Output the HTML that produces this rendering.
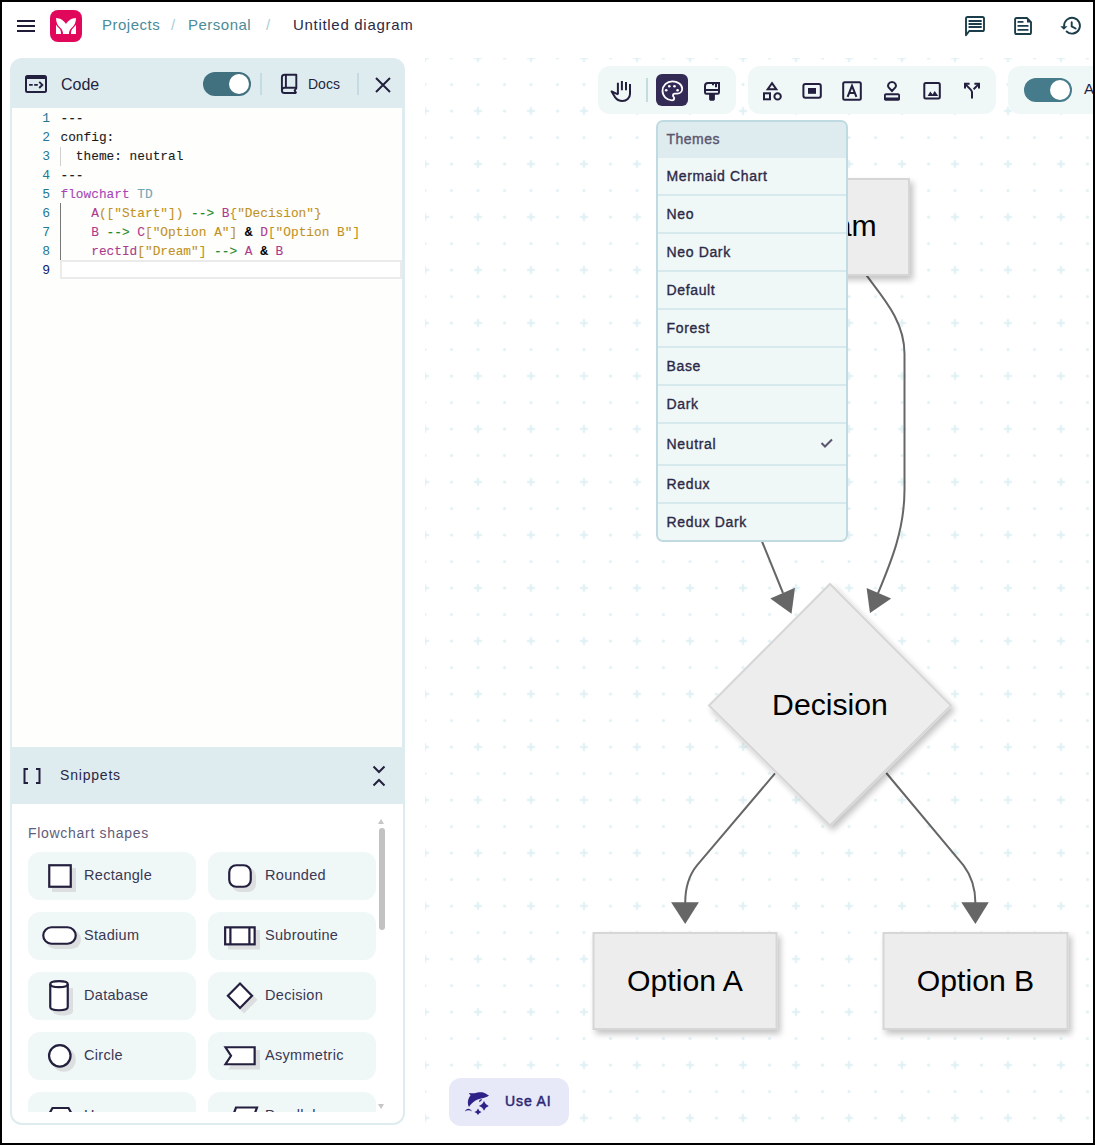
<!DOCTYPE html>
<html><head><meta charset="utf-8">
<style>
html,body{margin:0;padding:0;}
body{width:1095px;height:1145px;position:relative;overflow:hidden;background:#fff;font-family:"Liberation Sans",sans-serif;color:#2a2742;}
.a{position:absolute;}
.t{position:absolute;white-space:nowrap;line-height:1;}
#frame{position:absolute;left:0;top:0;width:1091px;height:1141px;border:2px solid #000;z-index:100;pointer-events:none;}
</style></head>
<body>
<!-- canvas grid -->
<svg class="a" style="left:0;top:0" width="1095" height="1145">
  <defs>
    <pattern id="grid" patternUnits="userSpaceOnUse" x="411.75" y="44.75" width="53" height="53">
      <rect x="9.25" y="12.25" width="8" height="2" fill="#def0f3"/>
      <rect x="12.25" y="9.25" width="2" height="8" fill="#def0f3"/>
      <circle cx="39.75" cy="13.25" r="1.5" fill="#def0f3"/>
      <circle cx="13.25" cy="39.75" r="1.5" fill="#def0f3"/>
      <circle cx="39.75" cy="39.75" r="1.5" fill="#def0f3"/>
    </pattern>
  </defs>
  <rect x="425" y="58" width="670" height="1090" fill="url(#grid)"/>
</svg>


<!-- header -->
<div class="a" style="left:17px;top:20px;width:18px;height:2px;background:#1f1c3a"></div>
<div class="a" style="left:17px;top:25px;width:18px;height:2px;background:#1f1c3a"></div>
<div class="a" style="left:17px;top:30px;width:18px;height:2px;background:#1f1c3a"></div>
<div class="a" style="left:50px;top:10px;width:32px;height:32px;border-radius:8px;background:#e1085c"></div>
<svg class="a" style="left:50px;top:10px" width="32" height="32" viewBox="0 0 32 32">
  <path d="M6 7.9 C10.5 8 14 10.5 16 14 C18 10.5 21.5 8 26 7.9 C26 12 24.5 15.5 21.5 18 C19.7 19.6 19 21.5 19 24 L13 24 C13 21.5 12.3 19.6 10.5 18 C7.5 15.5 6 12 6 7.9 Z" fill="#fff"/>
  <path d="M6 14.8 C7 16.3 8.2 17.5 9.3 18.6 C10.6 19.9 11 21.5 11 24 L6 24 Z" fill="#fff"/>
  <path d="M26 14.8 C25 16.3 23.8 17.5 22.7 18.6 C21.4 19.9 21 21.5 21 24 L26 24 Z" fill="#fff"/>
</svg>
<div class="t" style="left:102px;top:17px;font-size:15px;letter-spacing:0.5px;color:#4b8b99">Projects</div>
<div class="t" style="left:171px;top:17px;font-size:15px;color:#a9cdd4">/</div>
<div class="t" style="left:188px;top:17px;font-size:15px;letter-spacing:0.5px;color:#4b8b99">Personal</div>
<div class="t" style="left:266px;top:17px;font-size:15px;color:#a9cdd4">/</div>
<div class="t" style="left:293px;top:17px;font-size:15px;letter-spacing:0.7px;color:#2b2944">Untitled diagram</div>



<!-- header right icons -->
<svg class="a" style="left:0;top:0" width="1095" height="50" viewBox="0 0 1095 50">
 <g fill="none" stroke="#1b3d4a" stroke-width="1.9" stroke-linejoin="round">
  <path d="M966 35.3 V18.6 C966 17.7 966.7 17 967.6 17 H982.4 C983.3 17 984 17.7 984 18.6 V29.4 C984 30.3 983.3 31 982.4 31 H969.2 Z"/>
  <path d="M969.3 21 H981 M969.3 24 H981 M969.3 27 H981" stroke-linecap="round"/>
  <path d="M1026.9 18 H1016.7 C1015.8 18 1015.1 18.7 1015.1 19.6 V32.4 C1015.1 33.3 1015.8 34 1016.7 34 H1029.4 C1030.3 34 1031 33.3 1031 32.4 V22.1 Z"/>
  <path d="M1018.3 21.9 H1022.7 M1018.3 25.9 H1027.7 M1018.3 29.9 H1027.7" stroke-linecap="round"/>
  <path d="M1064.1 26 A7.9 7.9 0 1 1 1066.6 31.5" stroke-linecap="round"/>
  <path d="M1071.7 22.3 V26.4 L1075.6 28.5" stroke-linecap="round"/>
 </g>
 <path d="M1027 18 V22.6 H1031.5 Z" fill="#1b3d4a"/>
 <path d="M1060.3 26.3 H1067.5 L1063.9 29.8 Z" fill="#1b3d4a"/>
</svg>

<!-- left panel -->
<div class="a" style="left:10px;top:58px;width:395px;height:1067px;border-radius:12px;background:#deecf0"></div>
<svg class="a" style="left:24px;top:74px" width="24" height="20" viewBox="0 0 24 20">
  <rect x="2" y="2" width="20" height="16" rx="1.5" fill="none" stroke="#231f3e" stroke-width="2"/>
  <rect x="2" y="2" width="20" height="3" fill="#231f3e"/>
  <path d="M5.1 10.9 H8.7 M10.2 10.9 H13.8" stroke="#231f3e" stroke-width="1.9"/>
  <path d="M15.2 7.8 L18.3 10.9 L15.2 14" fill="none" stroke="#231f3e" stroke-width="1.9"/>
</svg>
<div class="t" style="left:61px;top:76.5px;font-size:16px;color:#231f3e">Code</div>
<div class="a" style="left:203px;top:72px;width:48px;height:24px;border-radius:12px;background:#41707f"></div>
<div class="a" style="left:229px;top:74px;width:20px;height:20px;border-radius:10px;background:#fff"></div>
<div class="a" style="left:259.5px;top:73px;width:2px;height:22px;background:#c3dce2"></div>
<svg class="a" style="left:274px;top:70px" width="30" height="30" viewBox="274 70 30 30">
  <path d="M296.3 93 H284.6 C283.1 93 281.9 91.8 281.9 90.4 V77.5 C281.9 76 283.1 74.8 284.6 74.8 H296.3 V88.3 L294.6 90.6 L296.3 93" fill="none" stroke="#231f3e" stroke-width="1.9" stroke-linejoin="round"/>
  <path d="M281.9 90.4 C281.9 89 283 87.8 284.4 87.8 H296.3 M285.9 74.8 V87.8" fill="none" stroke="#231f3e" stroke-width="1.9"/>
</svg>
<div class="t" style="left:308px;top:77px;font-size:14px;color:#231f3e">Docs</div>
<div class="a" style="left:357px;top:73px;width:2px;height:22px;background:#c3dce2"></div>
<svg class="a" style="left:374px;top:76px" width="18" height="18" viewBox="0 0 18 18">
  <path d="M2 2 L16 16 M16 2 L2 16" stroke="#231f3e" stroke-width="2"/>
</svg>
<!-- editor -->
<div class="a" style="left:12px;top:108px;width:390px;height:639px;background:#fefefc"></div>


<style>
.ln{position:absolute;left:20px;width:30px;text-align:right;font-family:"Liberation Mono",monospace;font-size:13px;line-height:19px;color:#237893;}
.cl{position:absolute;left:60.5px;font-family:"Liberation Mono",monospace;font-size:12.8px;line-height:19px;color:#1b1b1b;white-space:pre;-webkit-text-stroke:0.1px currentColor;}
.kw{color:#a548b6}.td{color:#72a7b6}.nd{color:#ad3a8c}.st{color:#c1921f}.ar{color:#1f8a2a}.am{color:#000;font-weight:bold}
</style>
<div class="ln" style="top:109px">1</div><div class="cl" style="top:109px">---</div>
<div class="ln" style="top:128px">2</div><div class="cl" style="top:128px">config:</div>
<div class="ln" style="top:147px">3</div><div class="cl" style="top:147px">  theme: neutral</div>
<div class="ln" style="top:166px">4</div><div class="cl" style="top:166px">---</div>
<div class="ln" style="top:185px">5</div><div class="cl" style="top:185px"><span class="kw">flowchart</span> <span class="td">TD</span></div>
<div class="ln" style="top:204px">6</div><div class="cl" style="top:204px">    <span class="nd">A</span><span class="st">(["Start"])</span> <span class="ar">--&gt;</span> <span class="nd">B</span><span class="st">{"Decision"}</span></div>
<div class="ln" style="top:223px">7</div><div class="cl" style="top:223px">    <span class="nd">B</span> <span class="ar">--&gt;</span> <span class="nd">C</span><span class="st">["Option A"]</span> <span class="am">&amp;</span> <span class="nd">D</span><span class="st">["Option B"]</span></div>
<div class="ln" style="top:242px">8</div><div class="cl" style="top:242px">    <span class="nd">rectId</span><span class="st">["Dream"]</span> <span class="ar">--&gt;</span> <span class="nd">A</span> <span class="am">&amp;</span> <span class="nd">B</span></div>
<div class="ln" style="top:261px;color:#0b216f">9</div>
<div class="a" style="left:60px;top:147px;width:1px;height:19px;background:#d0d0d0"></div>
<div class="a" style="left:60px;top:203px;width:1px;height:57px;background:#777"></div>
<div class="a" style="left:60px;top:260px;width:338px;height:15px;border:2px solid #ebebeb;background:#fff"></div>


<!-- snippets -->
<div class="a" style="left:12px;top:804px;width:391px;height:319px;background:#fff;border-radius:0 0 10px 10px"></div>
<svg class="a" style="left:22px;top:767px" width="20" height="18" viewBox="0 0 20 18">
  <path d="M6 2 H2.5 V16 H6 M14 2 H17.5 V16 H14" fill="none" stroke="#231f3e" stroke-width="2"/>
</svg>
<div class="t" style="left:60px;top:768px;font-size:14px;letter-spacing:0.8px;color:#2a2744">Snippets</div>
<svg class="a" style="left:371px;top:764px" width="16" height="24" viewBox="0 0 16 24">
  <path d="M2.5 2.5 L8 8 L13.5 2.5 M2.5 21.5 L8 16 L13.5 21.5" fill="none" stroke="#231f3e" stroke-width="2"/>
</svg>
<div class="t" style="left:28px;top:826px;font-size:14px;letter-spacing:0.7px;color:#5f5d78">Flowchart shapes</div>
<!-- scrollbar -->
<div class="a" style="left:378px;top:819px;width:0;height:0;border-left:3.5px solid transparent;border-right:3.5px solid transparent;border-bottom:5px solid #c6c6c6"></div>
<div class="a" style="left:379px;top:828px;width:6px;height:102px;border-radius:3px;background:#c2c2c2"></div>
<div class="a" style="left:378px;top:1104px;width:0;height:0;border-left:3.5px solid transparent;border-right:3.5px solid transparent;border-top:5px solid #c6c6c6"></div>
<div class="a" style="left:12px;top:846px;width:366px;height:266px;overflow:hidden">
<div class="a" style="left:16px;top:6px;width:168px;height:48px;border-radius:12px;background:#eff7f7"></div>
<div class="a" style="left:196px;top:6px;width:168px;height:48px;border-radius:12px;background:#eff7f7"></div>
<div class="a" style="left:16px;top:66px;width:168px;height:48px;border-radius:12px;background:#eff7f7"></div>
<div class="a" style="left:196px;top:66px;width:168px;height:48px;border-radius:12px;background:#eff7f7"></div>
<div class="a" style="left:16px;top:126px;width:168px;height:48px;border-radius:12px;background:#eff7f7"></div>
<div class="a" style="left:196px;top:126px;width:168px;height:48px;border-radius:12px;background:#eff7f7"></div>
<div class="a" style="left:16px;top:186px;width:168px;height:48px;border-radius:12px;background:#eff7f7"></div>
<div class="a" style="left:196px;top:186px;width:168px;height:48px;border-radius:12px;background:#eff7f7"></div>
<div class="a" style="left:16px;top:246px;width:168px;height:48px;border-radius:12px;background:#eff7f7"></div>
<div class="a" style="left:196px;top:246px;width:168px;height:48px;border-radius:12px;background:#eff7f7"></div>
<svg class="a" style="left:0;top:0" width="366" height="266" viewBox="12 846 366 266">
<g fill="#dcdedf">
 <rect x="52" y="868" width="24" height="24"/>
 <rect x="232" y="868" width="24" height="24" rx="8"/>
 <rect x="46" y="930" width="35" height="19" rx="9.5"/>
 <rect x="228" y="930" width="32" height="19.5"/>
 <path d="M53 988 V1011.5 C53 1013.5 57 1015.5 63 1015.5 C69 1015.5 73 1013.5 73 1011.5 V988 Z"/>
 <path d="M244 986 L257.5 999.7 L244 1013.4 L230.4 999.7 Z"/>
 <circle cx="63.8" cy="1059.8" r="12"/>
 <path d="M228.2 1050 H260 V1069.5 H228.2 L234.4 1059.8 Z"/>
</g>
<g fill="#fff" stroke="#231f3e" stroke-width="2.2" stroke-linejoin="miter">
 <rect x="49.25" y="865.25" width="21.5" height="21.5"/>
 <rect x="229.25" y="865.25" width="21.5" height="21.5" rx="7"/>
 <rect x="43.25" y="927.25" width="32.5" height="16.5" rx="8.25"/>
 <rect x="225.15" y="927.35" width="29.5" height="17"/>
 <path d="M230.4 927.35 V944.35 M249.4 927.35 V944.35" fill="none"/>
 <path d="M50.25 984 V1007 C50.25 1009 54 1010.25 59 1010.25 C64 1010.25 67.75 1009 67.75 1007 V984 C67.75 982 64 981.15 59 981.15 C54 981.15 50.25 982 50.25 984 Z"/>
 <path d="M50.25 984 C50.25 986 54 987.2 59 987.2 C64 987.2 67.75 986 67.75 984" fill="none"/>
 <path d="M240 983.5 L252 995.7 L240 1007.9 L227.9 995.7 Z"/>
 <circle cx="59.8" cy="1055.8" r="10.75"/>
 <path d="M225.5 1047.25 H254.65 V1064.25 H225.5 L231 1055.75 Z"/>
 <path d="M52.5 1108 H68.5 L73 1116 L68.5 1124 H52.5 L48 1116 Z"/>
 <path d="M236 1107.5 H257 L251 1124 H230 Z"/>
</g>
</svg>
<div class="t" style="left:72px;top:22px;font-size:14.5px;letter-spacing:0.3px;color:#3a3853">Rectangle</div>
<div class="t" style="left:253px;top:22px;font-size:14.5px;letter-spacing:0.3px;color:#3a3853">Rounded</div>
<div class="t" style="left:72px;top:82px;font-size:14.5px;letter-spacing:0.3px;color:#3a3853">Stadium</div>
<div class="t" style="left:253px;top:82px;font-size:14.5px;letter-spacing:0.3px;color:#3a3853">Subroutine</div>
<div class="t" style="left:72px;top:142px;font-size:14.5px;letter-spacing:0.3px;color:#3a3853">Database</div>
<div class="t" style="left:253px;top:142px;font-size:14.5px;letter-spacing:0.3px;color:#3a3853">Decision</div>
<div class="t" style="left:72px;top:202px;font-size:14.5px;letter-spacing:0.3px;color:#3a3853">Circle</div>
<div class="t" style="left:253px;top:202px;font-size:14.5px;letter-spacing:0.3px;color:#3a3853">Asymmetric</div>
<div class="t" style="left:72px;top:262px;font-size:14.5px;letter-spacing:0.3px;color:#3a3853">Hexagon</div>
<div class="t" style="left:253px;top:262px;font-size:14.5px;letter-spacing:0.3px;color:#3a3853">Parallelogram</div>
</div>



<!-- diagram -->
<svg class="a" style="left:0;top:0" width="1095" height="1145" viewBox="0 0 1095 1145">
 <defs>
  <filter id="sh" x="-20%" y="-20%" width="150%" height="150%">
   <feGaussianBlur in="SourceAlpha" stdDeviation="3.2"/>
   <feOffset dx="2.5" dy="4" result="b"/>
   <feComponentTransfer><feFuncA type="linear" slope="0.24"/></feComponentTransfer>
   <feMerge><feMergeNode/><feMergeNode in="SourceGraphic"/></feMerge>
  </filter>
 </defs>
 <g fill="none" stroke="#666" stroke-width="2">
  <path d="M761 539 L783 593"/>
  <path d="M866.7 275.7 C885 300 904.5 322 904.5 354 V489.6 C904.5 530 891 562 877.7 594"/>
  <path d="M775 773.4 L697 865.4 C690 874 685.2 885 685.2 903"/>
  <path d="M886.3 773 L963.5 865.4 C970 874 975.4 885 975.4 903"/>
 </g>
 <g fill="#666">
  <path d="M770.3 598.4 L795 587.8 L791.5 613.7 Z"/>
  <path d="M866.6 588.1 L891.2 598.5 L870 613 Z"/>
  <path d="M671.1 902.2 L698.9 902.2 L685.2 924 Z"/>
  <path d="M961.3 902.2 L988.8 902.2 L975.4 924 Z"/>
 </g>
 <g fill="#ededed" stroke="#d6d6d6" stroke-width="2" filter="url(#sh)">
  <rect x="757" y="179" width="152" height="96"/>
  <path d="M830 584 L951 705.5 L830 825.5 L709 705.5 Z"/>
  <rect x="593.5" y="933" width="183" height="96"/>
  <rect x="883.5" y="933" width="184" height="96"/>
 </g>
 <g font-family="Liberation Sans" font-size="30.2" fill="#000" text-anchor="middle">
  <text x="831.3" y="236">Dream</text>
  <text x="830" y="714.5">Decision</text>
  <text x="685" y="990.5">Option A</text>
  <text x="975.5" y="991">Option B</text>
 </g>
</svg>
<!-- use AI -->
<div class="a" style="left:449px;top:1078px;width:120px;height:48px;border-radius:12px;background:#e7e8f8"></div>
<svg class="a" style="left:0;top:1080px" width="600" height="50" viewBox="0 1080 600 50">
 <g fill="#2d2287">
  <path d="M469 1093 C473 1093.8 476 1093 479 1092.3 C482 1091.8 484.5 1092.5 486 1093.8 C487 1094.6 488 1095 489 1095.4 C487.5 1096.6 484.5 1097.8 481 1098.5 C476.5 1099.5 472 1102 469 1107 C467.2 1104 467.5 1099 470.6 1095.3 C469.9 1094.7 469.2 1094 469 1093 Z"/>
  <path d="M479 1102.2 C480.7 1101.5 481.8 1100.5 482 1099 L479.8 1099.7 C479.3 1100.4 479 1101.2 479 1102.2 Z"/>
  <path d="M465 1111.4 C466 1108.4 470 1107.3 472 1111.4 C470 1110 467 1110 465 1111.4 Z"/>
  <path d="M484 1100.8 Q485.2 1104.7 488.8 1105.9 Q485.2 1107.1 484 1110.8 Q482.8 1107.1 478.9 1105.9 Q482.8 1104.7 484 1100.8 Z"/>
  <path d="M478 1108.6 Q478.7 1111.2 481.6 1111.9 Q478.7 1112.6 478 1115 Q477.3 1112.6 474.4 1111.9 Q477.3 1111.2 478 1108.6 Z"/>
 </g>
</svg>
<div class="t" style="left:505px;top:1094px;font-size:14px;letter-spacing:0.9px;-webkit-text-stroke:0.5px #2c2773;color:#2c2773">Use AI</div>

<!-- toolbar -->
<div class="a" style="left:598px;top:66px;width:138px;height:48px;border-radius:12px;background:#eff7f7"></div>
<div class="a" style="left:748px;top:66px;width:248px;height:48px;border-radius:12px;background:#eff7f7"></div>
<div class="a" style="left:1008px;top:66px;width:120px;height:48px;border-radius:12px;background:#eff7f7"></div>
<div class="a" style="left:646px;top:78px;width:2px;height:24px;background:#c3dce2"></div>
<div class="a" style="left:656px;top:74px;width:32px;height:32px;border-radius:6px;background:#332a56"></div>
<div class="a" style="left:1024px;top:78px;width:48px;height:24px;border-radius:12px;background:#457b8a"></div>
<div class="a" style="left:1050px;top:80px;width:20px;height:20px;border-radius:10px;background:#fff"></div>
<div class="t" style="left:1084px;top:81px;font-size:15px;color:#231f3e">A</div>
<svg class="a" style="left:0;top:0" width="1095" height="130" viewBox="0 0 1095 130">
 <g fill="none" stroke="#231f3e" stroke-width="2" stroke-linecap="butt" stroke-linejoin="round">
  <path d="M617.9 82.8 V94.5 M621.9 81 V90.3 M626 82 V90.3"/>
  <path d="M630 84 V94 C630 98 626.5 101 622.5 101 C619 101 616.7 99.5 614.8 96.8 L611.6 91.4 L617.9 94.3"/>
 </g>
 <g fill="none" stroke="#fff" stroke-width="1.8">
  <path d="M672.3 81.3 C666.8 81.3 662.5 85.6 662.5 90.8 C662.5 96.2 666.9 100.3 672 100.3 C673.3 100.3 674.2 99.4 674.2 98.3 C674.2 97.7 674 97.3 673.6 96.9 C673.3 96.5 673 96 673 95.5 C673 94.4 673.9 93.6 675 93.6 H677.3 C680.1 93.6 682.2 91.4 682.2 88.7 C682.2 84.6 677.8 81.3 672.3 81.3 Z"/>
 </g>
 <g fill="#fff">
  <circle cx="666.2" cy="90.2" r="1.3"/><circle cx="669.3" cy="86.3" r="1.3"/><circle cx="674.5" cy="86.3" r="1.3"/><circle cx="677.6" cy="90.2" r="1.3"/>
 </g>
 <g fill="none" stroke="#231f3e" stroke-width="2">
  <path d="M719 83 H708 C706.3 83 705 84.3 705 86 V92.2 C705 93 705.6 93.7 706.4 93.7 H717.6 C718.4 93.7 719 93 719 92.2 Z"/>
  <path d="M705 90 H719"/>
  <path d="M713 83 V85.3 M716 83 V87.3"/>
 </g>
 <path d="M709.1 94 H714.9 V99 C714.9 100 714.1 100.8 713.1 100.8 H710.9 C709.9 100.8 709.1 100 709.1 99 Z" fill="#231f3e"/>
 <g fill="none" stroke="#231f3e" stroke-width="2" stroke-linejoin="miter">
  <path d="M772 83.2 L776.3 89.2 H767.7 Z"/>
  <rect x="764" y="93.3" width="6" height="6"/>
  <circle cx="777.6" cy="96.4" r="3.2"/>
  <rect x="803.4" y="84.1" width="17.4" height="13.7" rx="2"/>
  <rect x="843.2" y="82.2" width="17.6" height="17.5" rx="1.5"/>
  <path d="M847.6 96.8 L852 85.8 L856.4 96.8 M849.2 93 H854.8"/>
  <path d="M892 91 L888.6 87.4 C887.2 85.6 888.6 82 892 82 C895.4 82 896.8 85.6 895.4 87.4 Z" />
  <rect x="924.3" y="83" width="15.5" height="15.6" rx="1.5"/>
  <path d="M965.3 84.1 L970.7 89.6 C971.5 90.4 972 91.5 972 92.6 V98.6 M978.7 84.1 L973.6 89.2"/>
 </g>
 <rect x="808" y="88" width="8" height="5.8" fill="#231f3e"/>
 <path d="M884 95.5 C884 94.2 884.9 93.3 886 93.3 H898 C899.1 93.3 900 94.2 900 95.5 V99 C900 100 899.3 100.7 898.3 100.7 H885.7 C884.7 100.7 884 100 884 99 Z M885.8 95.2 V97.4 H898.2 V95.2 Z" fill="#231f3e" fill-rule="evenodd"/>
 <path d="M927.6 96 L930.3 91.6 L932.6 94.4 L934.7 91 L938.2 96 Z" fill="#231f3e"/>
 <path d="M965 88.4 V83.8 H969.6 M974.4 83.8 H979 V88.4" stroke="#231f3e" stroke-width="2" fill="none" stroke-linejoin="miter"/>
</svg>


<!-- themes dropdown -->
<div class="a" style="left:656px;top:120px;width:188px;height:418px;border:2px solid #bfdbe1;border-radius:7px;background:#d6e9ec;overflow:hidden">
 <div class="a" style="left:0;top:0;width:188px;height:36px;background:#deecf0"></div>
 <div class="t" style="left:8.5px;top:10px;font-size:14px;letter-spacing:0.5px;-webkit-text-stroke:0.4px #5b566f;color:#5b566f">Themes</div>
 <div class="a" style="left:0;top:36px;width:188px;height:36px;background:#eff7f7"></div>
 <div class="t" style="left:8.5px;top:46.8px;font-size:14px;letter-spacing:0.65px;-webkit-text-stroke:0.35px #2c2946;color:#2c2946">Mermaid Chart</div>
 <div class="a" style="left:0;top:74px;width:188px;height:36px;background:#eff7f7"></div>
 <div class="t" style="left:8.5px;top:84.8px;font-size:14px;letter-spacing:0.65px;-webkit-text-stroke:0.35px #2c2946;color:#2c2946">Neo</div>
 <div class="a" style="left:0;top:112px;width:188px;height:36px;background:#eff7f7"></div>
 <div class="t" style="left:8.5px;top:122.8px;font-size:14px;letter-spacing:0.65px;-webkit-text-stroke:0.35px #2c2946;color:#2c2946">Neo Dark</div>
 <div class="a" style="left:0;top:150px;width:188px;height:36px;background:#eff7f7"></div>
 <div class="t" style="left:8.5px;top:160.8px;font-size:14px;letter-spacing:0.65px;-webkit-text-stroke:0.35px #2c2946;color:#2c2946">Default</div>
 <div class="a" style="left:0;top:188px;width:188px;height:36px;background:#eff7f7"></div>
 <div class="t" style="left:8.5px;top:198.8px;font-size:14px;letter-spacing:0.65px;-webkit-text-stroke:0.35px #2c2946;color:#2c2946">Forest</div>
 <div class="a" style="left:0;top:226px;width:188px;height:36px;background:#eff7f7"></div>
 <div class="t" style="left:8.5px;top:236.8px;font-size:14px;letter-spacing:0.65px;-webkit-text-stroke:0.35px #2c2946;color:#2c2946">Base</div>
 <div class="a" style="left:0;top:264px;width:188px;height:36px;background:#eff7f7"></div>
 <div class="t" style="left:8.5px;top:274.8px;font-size:14px;letter-spacing:0.65px;-webkit-text-stroke:0.35px #2c2946;color:#2c2946">Dark</div>
 <div class="a" style="left:0;top:302px;width:188px;height:40px;background:#eff7f7"></div>
 <div class="t" style="left:8.5px;top:314.8px;font-size:14px;letter-spacing:0.65px;-webkit-text-stroke:0.35px #2c2946;color:#2c2946">Neutral</div>
 <div class="a" style="left:0;top:344px;width:188px;height:36px;background:#eff7f7"></div>
 <div class="t" style="left:8.5px;top:354.8px;font-size:14px;letter-spacing:0.65px;-webkit-text-stroke:0.35px #2c2946;color:#2c2946">Redux</div>
 <div class="a" style="left:0;top:382px;width:188px;height:36px;background:#eff7f7"></div>
 <div class="t" style="left:8.5px;top:392.8px;font-size:14px;letter-spacing:0.65px;-webkit-text-stroke:0.35px #2c2946;color:#2c2946">Redux Dark</div>
 <svg class="a" style="left:162px;top:315px" width="14" height="12" viewBox="0 0 14 12"><path d="M1.5 6 L5 9.5 L12 2.5" fill="none" stroke="#5b566f" stroke-width="2"/></svg>
</div>

<div id="frame"></div>
</body></html>
